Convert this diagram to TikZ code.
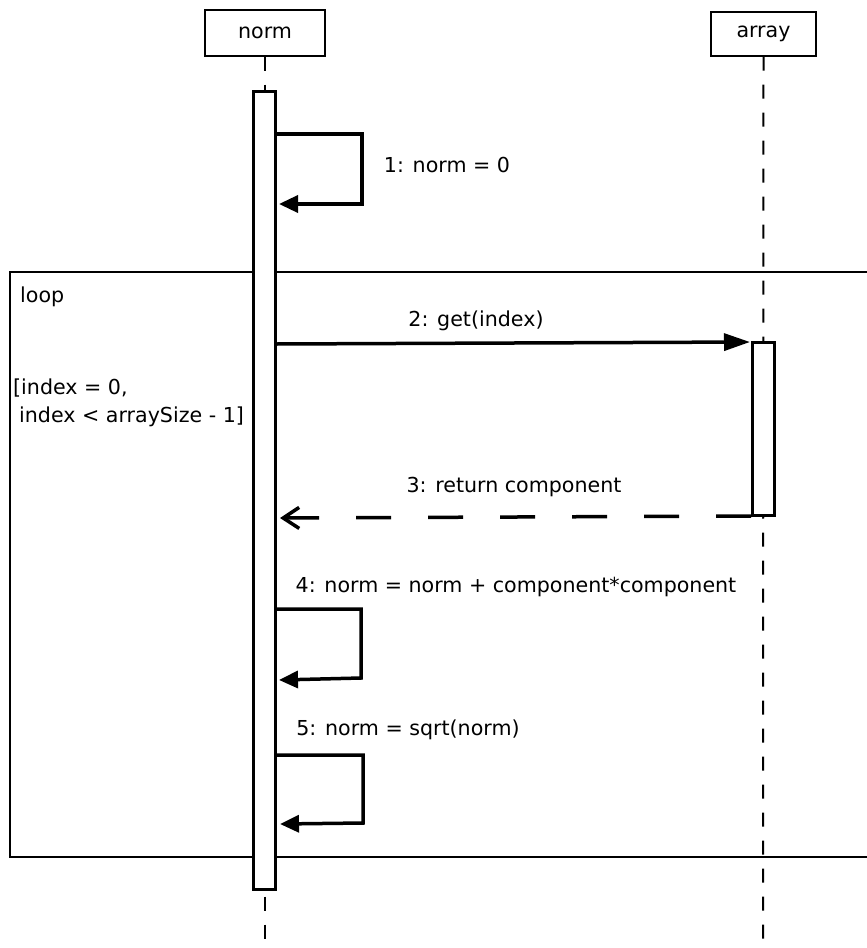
\documentclass[tikz,border=0pt]{standalone}
\usepackage{fontspec}
\setmainfont{DejaVu Sans}
\usetikzlibrary{arrows.meta}
\newcommand\dfont{\fontsize{20.6pt}{28pt}\selectfont}
\begin{document}
\begin{tikzpicture}[x=1pt,y=-1pt,
  hdr/.style={draw, line width=1.2pt, inner sep=0pt, font=\dfont},
  lifeline/.style={line width=2pt, dash pattern=on 14pt off 14pt},
  actbar/.style={draw, fill=white, line width=3.5pt, minimum width=22pt, inner sep=0pt},
  msg/.style={line width=3.5pt, -{Triangle[length=19pt,width=17pt]}},
  longmsg/.style={line width=3.5pt, -{Triangle[length=26pt,width=17pt]}},
  retmsg/.style={line width=3.5pt, dash pattern=on 35pt off 37pt, -{Straight Barb[length=16pt,width=21pt,line width=3.5pt]}},
  lbl/.style={font=\dfont, inner sep=0pt},
  frame/.style={line width=1.2pt}
]
\useasboundingbox (0,0) rectangle (867,948);
\fill[white] (0,0) rectangle (867,948);

% headers
\node[hdr, minimum width=120pt, minimum height=46pt] (normh) at (265,33) {norm};
\node[hdr, minimum width=105pt, minimum height=44pt] (arrh) at (763.5,34) {array};

% lifelines
\coordinate (normend) at (265,948);
\coordinate (arrend) at (763,948);
\draw[lifeline] (normh.south) -- (normend);
\draw[lifeline] (arrh.south) -- (arrend);

% loop frame
\coordinate (fr1) at (870,272);
\coordinate (fr2) at (10,272);
\coordinate (fr3) at (10,857);
\coordinate (fr4) at (870,857);
\draw[frame] (fr1) -- (fr2) -- (fr3) -- (fr4);
\node[lbl, anchor=west] (looplbl) at (20,297) {loop};
\node[lbl, anchor=north west, align=left] (guard) at (13,379) {[index = 0,\\\hspace{6pt}index < arraySize - 1]};

% activation bars
\node[actbar, minimum height=798pt] (nbar) at (264.5,490.5) {};
\node[actbar, minimum height=173pt] (abar) at (763.5,429) {};

% message 1
\coordinate (m1s) at (277,134);
\coordinate (m1e) at (279,204);
\draw[msg] (m1s) -- ++(85,0) -- ++(0,70) -- (m1e);
\node[lbl] (l1) at (447,165) {1: norm = 0};

% message 2
\coordinate (m2s) at (276,344);
\coordinate (m2e) at (750,342);
\draw[longmsg] (m2s) -- (m2e);
\node[lbl] (l2) at (476,321) {2: get(index)};

% message 3
\coordinate (m3s) at (751,516);
\coordinate (m3e) at (280,518);
\draw[retmsg] (m3s) -- (m3e);
\node[lbl] (l3) at (514,487) {3: return component};

% message 4
\coordinate (m4s) at (277,609);
\coordinate (m4e) at (279,680);
\draw[msg] (m4s) -- ++(84,0) -- ++(0,69) -- (m4e);
\node[lbl] (l4) at (516,587) {4: norm = norm + component*component};

% message 5
\coordinate (m5s) at (277,755);
\coordinate (m5e) at (280,824);
\draw[msg] (m5s) -- ++(86,0) -- ++(0,68) -- (m5e);
\node[lbl] (l5) at (408,730) {5: norm = sqrt(norm)};
\end{tikzpicture}
\end{document}
